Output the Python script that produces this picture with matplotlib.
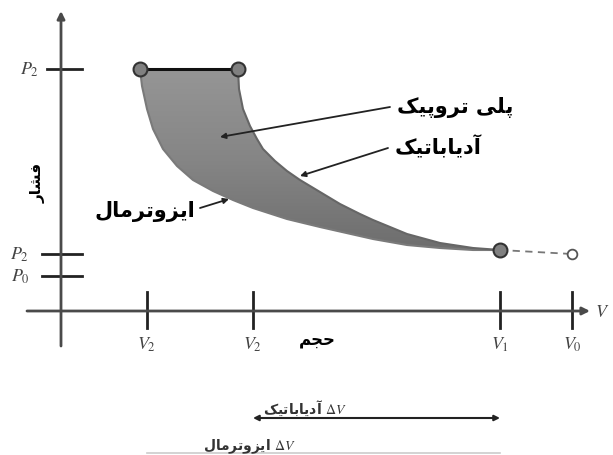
import numpy as np
import matplotlib
matplotlib.use('Agg')
import matplotlib.pyplot as plt
from matplotlib.patches import Polygon
from matplotlib.colors import LinearSegmentedColormap

plt.rcParams['mathtext.fontset'] = 'stix'

# Diagram data (V along x, P along y)
v_ticks = [0.86, 1.92, 4.39, 5.11]
v_labels = ['$V_2$', '$V_2$', '$V_1$', '$V_0$']
p_ticks = [2.42, 0.57, 0.35]
p_labels = ['$P_2$', '$P_2$', '$P_0$']

iso_v = [0.79, 0.81, 0.86, 0.92, 1.02, 1.16, 1.32, 1.52, 1.72, 1.92, 2.26, 2.59, 3.12, 3.46, 3.79, 4.12, 4.39]
iso_p = [2.42, 2.25, 2.02, 1.82, 1.62, 1.45, 1.31, 1.20, 1.11, 1.03, 0.92, 0.84, 0.72, 0.66, 0.63, 0.61, 0.61]
adi_v = [1.77, 1.78, 1.82, 1.89, 1.96, 2.02, 2.14, 2.26, 2.39, 2.59, 2.79, 2.99, 3.12, 3.46, 3.79, 4.12, 4.39]
adi_p = [2.42, 2.22, 2.02, 1.85, 1.72, 1.62, 1.50, 1.40, 1.31, 1.19, 1.07, 0.97, 0.91, 0.77, 0.68, 0.63, 0.61]

top_v = [0.79, 1.77]
top_p = [2.42, 2.42]
end_v = [4.39, 5.11]
end_p = [0.61, 0.57]

# Persian text: simple shaping to presentation forms, since matplotlib draws no joins
FORMS = {
    'ا': ('\uFE8D', '\uFE8E', None, None),
    'آ': ('\uFE81', '\uFE82', None, None),
    'د': ('\uFEA9', '\uFEAA', None, None),
    'ر': ('\uFEAD', '\uFEAE', None, None),
    'ز': ('\uFEAF', '\uFEB0', None, None),
    'و': ('\uFEED', '\uFEEE', None, None),
    'ب': ('\uFE8F', '\uFE90', '\uFE91', '\uFE92'),
    'ت': ('\uFE95', '\uFE96', '\uFE97', '\uFE98'),
    'پ': ('\uFB56', '\uFB57', '\uFB58', '\uFB59'),
    'ج': ('\uFE9D', '\uFE9E', '\uFE9F', '\uFEA0'),
    'ح': ('\uFEA1', '\uFEA2', '\uFEA3', '\uFEA4'),
    'ش': ('\uFEB5', '\uFEB6', '\uFEB7', '\uFEB8'),
    'ف': ('\uFED1', '\uFED2', '\uFED3', '\uFED4'),
    'ک': ('\uFB8E', '\uFB8F', '\uFB90', '\uFB91'),
    'ل': ('\uFEDD', '\uFEDE', '\uFEDF', '\uFEE0'),
    'م': ('\uFEE1', '\uFEE2', '\uFEE3', '\uFEE4'),
    'ی': ('\uFBFC', '\uFBFD', '\uFBFE', '\uFBFF'),
}


def shape(s):
    out = []
    for i, ch in enumerate(s):
        if ch not in FORMS:
            out.append(ch)
            continue
        prev = s[i - 1] if i > 0 else ''
        nxt = s[i + 1] if i + 1 < len(s) else ''
        jp = prev in FORMS and FORMS[prev][2] is not None
        jn = FORMS[ch][2] is not None and nxt in FORMS
        iso, fin, ini, med = FORMS[ch]
        if jp and jn:
            out.append(med)
        elif jp:
            out.append(fin)
        elif jn:
            out.append(ini)
        else:
            out.append(iso)
    return ''.join(reversed(out))


fig = plt.figure(figsize=(6.13, 4.56), dpi=100)
ax = fig.add_axes([0, 0, 1, 1])
ax.axis('off')

# shaded region between the two curves, with a vertical gray gradient
poly_pts = list(zip(iso_v, iso_p)) + list(zip(adi_v[::-1], adi_p[::-1]))
region = Polygon(poly_pts, closed=True, facecolor='none', edgecolor='none')
ax.add_patch(region)
cmap = LinearSegmentedColormap.from_list('band', ['#6c6c6c', '#858585', '#969696'])
grad = np.linspace(0, 1, 256).reshape(-1, 1)
img = ax.imshow(grad, extent=[0.7, 4.5, 0.55, 2.45], origin='lower', cmap=cmap,
                aspect='auto', zorder=1)
img.set_clip_path(region)
ax.plot(iso_v, iso_p, color='#7a7a7a', lw=1.5, zorder=2, solid_joinstyle='round')
ax.plot(adi_v, adi_p, color='#666666', lw=1.5, zorder=2, solid_joinstyle='round')

ax.plot(top_v, top_p, color='#111111', lw=2.2, zorder=3)
ax.plot(top_v, top_p, 'o', ms=10, mfc='#808080', mec='#333333', mew=1.5, zorder=4)
ax.plot(end_v, end_p, color='#777777', lw=1.3, dashes=(4, 3), zorder=2)
ax.plot(end_v[0], end_p[0], 'o', ms=10, mfc='#808080', mec='#333333', mew=1.5, zorder=4)
ax.plot(end_v[1], end_p[1], 'o', ms=7, mfc='white', mec='#555555', mew=1.3, zorder=4)

# axes with arrows
axis_kw = dict(arrowstyle='-|>', color='#4a4a4a', lw=2, mutation_scale=11, shrinkA=0, shrinkB=0)
ax.annotate('', xy=(0, 3.0), xytext=(0, -0.35), arrowprops=axis_kw)
ax.annotate('', xy=(5.29, 0), xytext=(-0.34, 0), arrowprops=axis_kw)

for v, lab in zip(v_ticks, v_labels):
    ax.plot([v, v], [0.19, -0.17], color='#222222', lw=2)
    ax.text(v, -0.33, lab, ha='center', va='center', fontsize=13, color='#444444')
for i, (p, lab) in enumerate(zip(p_ticks, p_labels)):
    x0 = -0.14 if i == 0 else -0.19
    ax.plot([x0, 0.21], [p, p], color='#222222', lw=2)
    ax.text(x0 - 0.22 + (0.05 if i == 0 else 0), p, lab, ha='center', va='center',
            fontsize=13, color='#444444')
ax.text(5.41, 0, '$V$', ha='center', va='center', fontsize=13, color='#444444')

ax.text(-0.23, 1.29, shape('فشار'), rotation=90, ha='center', va='center', fontsize=11,
        fontweight='bold')
ax.text(2.56, -0.27, shape('حجم'), ha='center', va='center', fontsize=12, fontweight='bold')

# labels with pointers
ax.text(3.94, 2.05, shape('پلی تروپیک'), ha='center', va='center', fontsize=15, fontweight='bold')
ax.text(3.77, 1.65, shape('آدیاباتیک'), ha='center', va='center', fontsize=15, fontweight='bold')
ax.text(0.84, 1.00, shape('ایزوترمال'), ha='center', va='center', fontsize=15, fontweight='bold')
ptr_kw = dict(arrowstyle='-|>', color='#222222', lw=1.3, mutation_scale=8, shrinkA=0, shrinkB=0)
ax.annotate('', xy=(1.59, 1.74), xytext=(3.29, 2.04), arrowprops=ptr_kw)
ax.annotate('', xy=(2.39, 1.35), xytext=(3.27, 1.63), arrowprops=ptr_kw)
ax.annotate('', xy=(1.68, 1.12), xytext=(1.39, 1.03), arrowprops=ptr_kw)

# volume change arrows below
ax.annotate('', xy=(v_ticks[1], -1.07), xytext=(v_ticks[2], -1.07),
            arrowprops=dict(arrowstyle='<|-|>', color='#222222', lw=1.5, mutation_scale=8,
                            shrinkA=0, shrinkB=0))
ax.text(2.44, -0.96, shape('آدیاباتیک') + r' $\Delta V$', ha='center', va='center', fontsize=10,
        fontweight='bold', color='#333333')
ax.text(1.89, -1.35, shape('ایزوترمال') + r' $\Delta V$', ha='center', va='center', fontsize=10,
        fontweight='bold', color='#333333')
ax.plot([v_ticks[0], v_ticks[2]], [-1.42, -1.42], color='#cccccc', lw=1.2)

ax.set_xlim(-0.61, 5.52)
ax.set_ylim(-1.44, 3.12)

fig.savefig('out.png', dpi=100)
